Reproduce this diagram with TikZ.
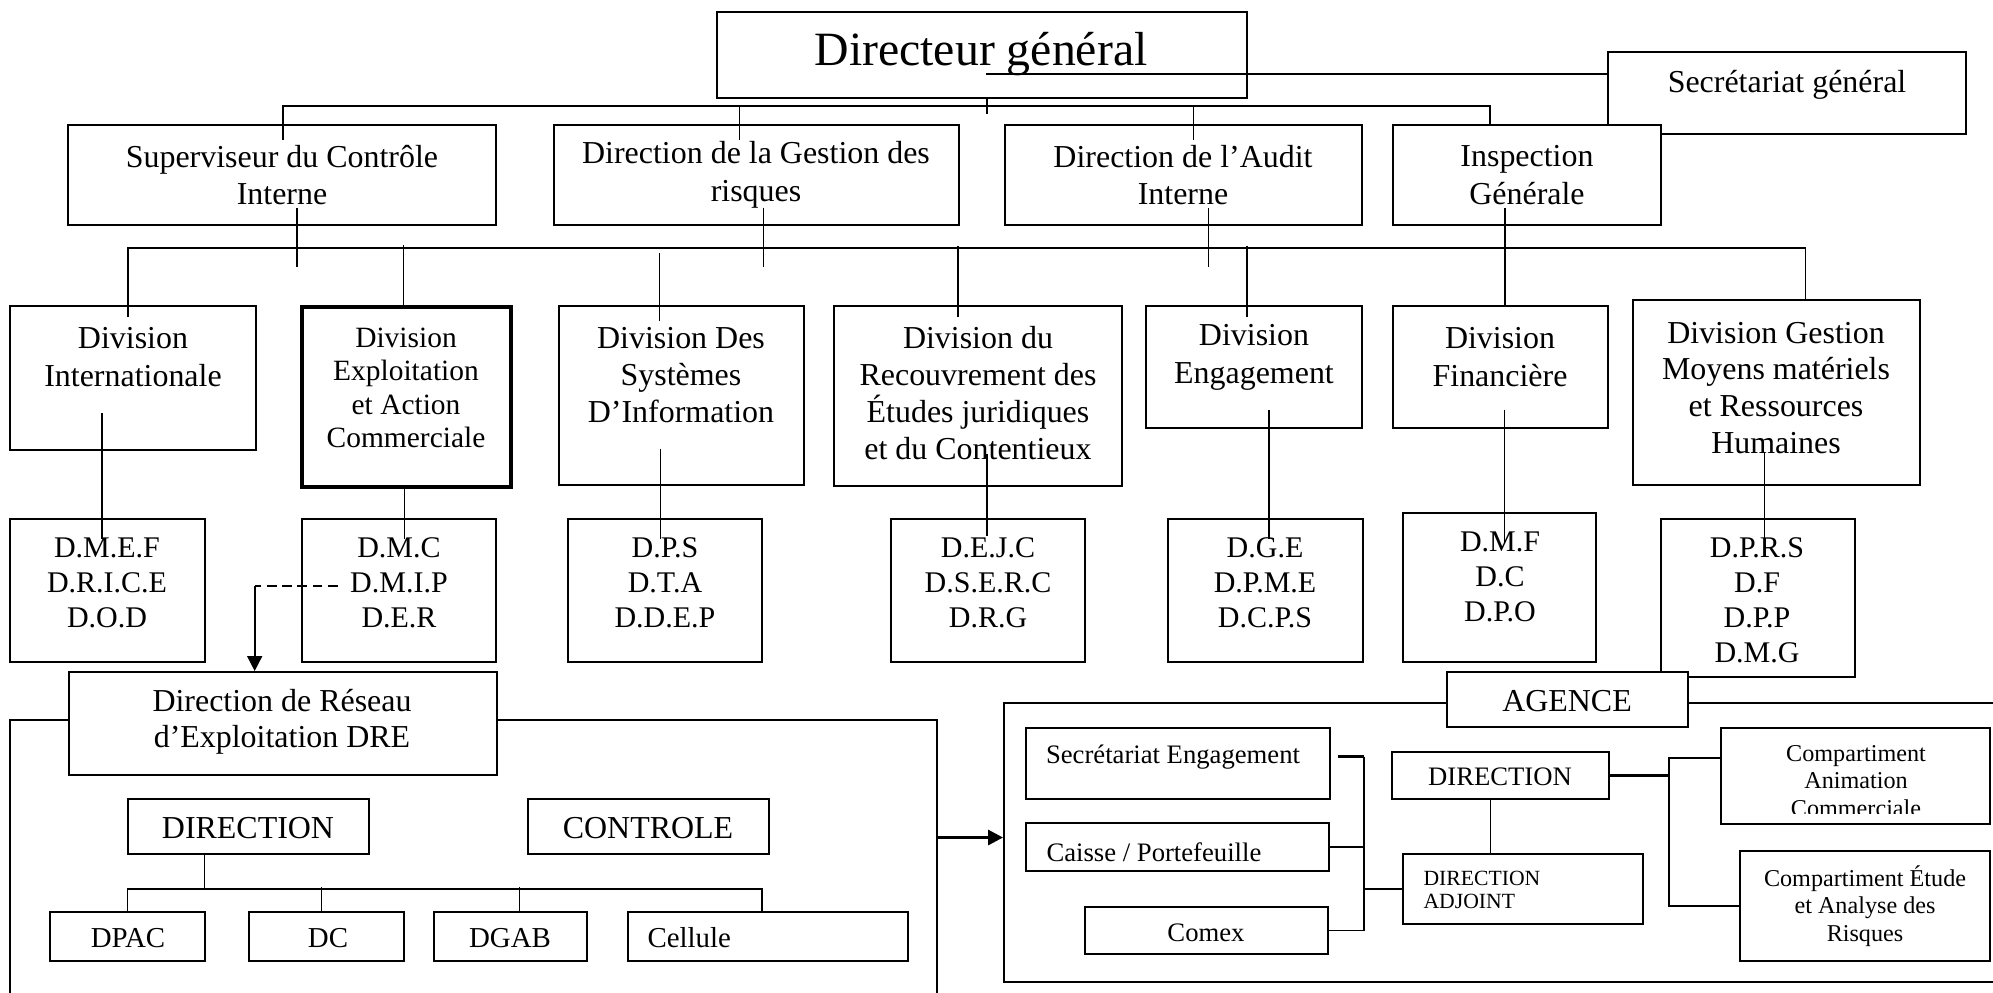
\documentclass[tikz,border=0pt]{standalone}
\usepackage{fontspec}
\setmainfont{Liberation Serif}
\usetikzlibrary{fit,calc,arrows.meta}

\tikzset{
  box/.style={draw, line width=0.7pt, fill=white, inner sep=0pt},
  groupframe/.style={draw, line width=0.7pt, inner sep=0pt},
  txt/.style={align=center, inner sep=0pt, font=\fontsize{11.5}{13.6}\selectfont},
  subtxt/.style={txt, font=\fontsize{10.8}{12.6}\selectfont},
  lowtxt/.style={txt, font=\fontsize{10.4}{12}\selectfont},
  smalltxt/.style={txt, font=\fontsize{9.6}{11}\selectfont},
  tinytxt/.style={txt, font=\fontsize{8.7}{10}\selectfont},
  link/.style={line width=0.6pt},
  boldlink/.style={line width=1.1pt},
  tip/.style={-{Triangle[length=5.4pt,width=5.4pt]}}
}

\begin{document}
\begin{tikzpicture}[x=0.36pt,y=-0.36pt]
  \useasboundingbox (0,0) rectangle (1993,992);
  \clip (0,0) rectangle (1993,992);

  % direction generale et rattachements
  \node[box, fit={(1608,52) (1966,134)}] (sg) {};
  \node[box, fit={(717,12) (1247,98)}] (dg) {};
  \node[box, fit={(68,125) (496,225)}] (sci) {};
  \node[box, fit={(554,125) (959,225)}] (dgr) {};
  \node[box, fit={(1005,125) (1362,225)}] (dai) {};
  \node[box, fit={(1393,125) (1661,225)}] (insp) {};
  \node[txt, font=\fontsize{17.2}{20}\selectfont] (dg-t) at (981,54) {Directeur général};
  \node[txt] (sg-t) at (1787,85) {Secrétariat général};
  \node[txt] (sci-t) at (282,175) {Superviseur du Contrôle\\Interne};
  \node[txt] (dgr-t) at (756,175) {Direction de la Gestion des\\risques};
  \node[txt] (dai-t) at (1183,175) {Direction de l’Audit\\Interne};
  \node[txt] (insp-t) at (1527,175) {Inspection\\Générale};

  % divisions
  \node[box, fit={(10,306) (256,450)}] (dint) {};
  \node[box, line width=1.1pt, fit={(302,307) (511,487)}] (dexp) {};
  \node[box, fit={(559,306) (804,485)}] (dsi) {};
  \node[box, fit={(834,306) (1122,486)}] (drec) {};
  \node[box, fit={(1146,306) (1362,428)}] (deng) {};
  \node[box, fit={(1393,306) (1608,428)}] (dfin) {};
  \node[box, fit={(1633,300) (1920,485)}] (dmm) {};
  \node[txt] (dint-t) at (133,357) {Division\\Internationale};
  \node[txt, font=\fontsize{10.6}{12}\selectfont] (dexp-t) at (406,388) {Division\\Exploitation\\et Action\\Commerciale};
  \node[txt, font=\fontsize{11.5}{13.3}\selectfont] (dsi-t) at (681,375) {Division Des\\Systèmes\\D’Information};
  \node[txt, font=\fontsize{11.5}{13.3}\selectfont] (drec-t) at (978,393) {Division du\\Recouvrement des\\Études juridiques\\et du Contentieux};
  \node[txt] (deng-t) at (1254,357) {Division\\Engagement};
  \node[txt] (dfin-t) at (1500,357) {Division\\Financière};
  \node[txt, font=\fontsize{11.5}{13.3}\selectfont] (dmm-t) at (1776,388) {Division Gestion\\Moyens matériels\\et Ressources\\Humaines};

  % directions des divisions
  \node[box, fit={(10,519) (205,662)}] (sint) {};
  \node[box, fit={(302,519) (496,662)}] (sexp) {};
  \node[box, fit={(568,519) (762,662)}] (ssi) {};
  \node[box, fit={(891,519) (1085,662)}] (srec) {};
  \node[box, fit={(1168,519) (1363,662)}] (seng) {};
  \node[box, fit={(1403,513) (1596,662)}] (sfin) {};
  \node[box, fit={(1661,519) (1855,677)}] (smm) {};
  \node[subtxt] (sint-t) at (107,583) {D.M.E.F\\D.R.I.C.E\\D.O.D};
  \node[subtxt] (sexp-t) at (399,583) {D.M.C\\D.M.I.P\\D.E.R};
  \node[subtxt] (ssi-t) at (665,583) {D.P.S\\D.T.A\\D.D.E.P};
  \node[subtxt] (srec-t) at (988,583) {D.E.J.C\\D.S.E.R.C\\D.R.G};
  \node[subtxt] (seng-t) at (1265,583) {D.G.E\\D.P.M.E\\D.C.P.S};
  \node[subtxt] (sfin-t) at (1500,577) {D.M.F\\D.C\\D.P.O};
  \node[subtxt] (smm-t) at (1757,600) {D.P.R.S\\D.F\\D.P.P\\D.M.G};

  % reseau d'exploitation
  \node[groupframe, fit={(10,720) (937,1010)}] (dreg) {};
  \node[box, fit={(69,672) (497,775)}] (dre) {};
  \node[box, fit={(128,799) (369,854)}] (ddir) {};
  \node[box, fit={(528,799) (769,854)}] (dctl) {};
  \node[box, fit={(50,912) (205,961)}] (dpac) {};
  \node[box, fit={(249,912) (404,961)}] (ddc) {};
  \node[box, fit={(434,912) (587,961)}] (dgab) {};
  \node[box, fit={(628,912) (908,961)}] (dcel) {};
  \node[txt, font=\fontsize{11.5}{12.8}\selectfont] (dre-t) at (282,722) {Direction de Réseau\\d’Exploitation DRE};
  \node[txt] (ddir-t) at (248,828) {DIRECTION};
  \node[txt] (dctl-t) at (648,828) {CONTROLE};
  \node[lowtxt] (dpac-t) at (128,938) {DPAC};
  \node[lowtxt] (ddc-t) at (328,938) {DC};
  \node[lowtxt] (dgab-t) at (510,938) {DGAB};
  \node[lowtxt, anchor=west] (dcel-t) at (647,938) {Cellule};

  % agence
  \node[groupframe, fit={(1004,703) (2010,982)}] (ag) {};
  \node[box, fit={(1447,672) (1688,727)}] (agc) {};
  \node[box, fit={(1026,728) (1330,799)}] (ase) {};
  \node[box, fit={(1026,823) (1329,871)}] (acp) {};
  \node[box, fit={(1085,907) (1328,954)}] (acx) {};
  \node[box, fit={(1392,752) (1609,799)}] (adir) {};
  \node[box, fit={(1403,854) (1643,924)}] (aadj) {};
  \node[box, fit={(1721,728) (1990,824)}] (aca) {};
  \node[box, fit={(1740,851) (1990,961)}] (ace) {};
  \node[txt] (agc-t) at (1567,701) {AGENCE};
  \node[smalltxt] (ase-t) at (1173,757) {Secrétariat Engagement};
  \node[smalltxt, anchor=west] (acp-t) at (1046,852) {Caisse / Portefeuille};
  \node[smalltxt] (acx-t) at (1206,933) {Comex};
  \node[smalltxt] (adir-t) at (1500,777) {DIRECTION};
  \node[txt, align=left, anchor=west, font=\fontsize{7.8}{8.3}\selectfont] (aadj-t) at (1423,890) {DIRECTION\\ADJOINT};
  \begin{scope}
    \clip ($(aca.south west)+(0,-11)$) rectangle (aca.north east);
    \node[tinytxt] (aca-t) at (1856,781) {Compartiment\\Animation\\Commerciale};
  \end{scope}
  \node[tinytxt] (ace-t) at (1865,906) {Compartiment Étude\\et Analyse des\\Risques};

  % liaisons du haut
  \draw[link] ($(sg.west)+(0,-19)$) -- +(-621,0);
  \draw[link] ($(dg.south)+(5,0)$) -- ++(0,15);
  \draw[link] ($(sci.north)+(1,16)$) -- ++(0,-34) -| ($(insp.north)+(-37,0)$);
  \foreach \n/\d in {dgr/-17,dai/10}
    \draw[link] ($(\n.north)+(\d,-18)$) -- ++(0,34);

  \coordinate (midbus) at ($(sci.south)+(0,22)$);
  \foreach \n/\d in {sci/15,dgr/7,dai/25}
    \draw[link] ($(\n.south)+(\d,-18)$) -- ++(0,59);
  \draw[link] ($(insp.south)+(-22,-18)$) -- ++(0,98);
  \draw[link] ($(dint.north)+(-5,12)$) |- (midbus) -| ($(dmm.north)+(29,0)$);
  \foreach \n/\d/\e/\l in {dexp/-3/0/60,drec/-20/12/71,deng/-7/12/71}
    \draw[link] ($(\n.north)+(\d,\e)$) -- ++(0,-\l);
  \draw[link] ($(dsi.north)+(-22,16)$) -- ++(0,-68);

  \foreach \n/\d/\e/\l in {dint/-31/-38/126,dexp/-2/0/50,dsi/-21/-37/90,drec/9/-33/82,deng/15/-19/129,dfin/4/-19/134,dmm/-12/-34/87}
    \draw[link] ($(\n.south)+(\d,\e)$) -- ++(0,\l);

  % vers le reseau
  \draw[line width=1pt, dash pattern=on 3.5pt off 2pt] ($(sexp-t.west)+(-12,3)$) -- ++(-83,0) coordinate (dk);
  \draw[link, tip] (dk) -- (dk |- dre.north);

  \coordinate (drebus) at ($(ddir.south)+(0,34)$);
  \draw[link] ($(ddir.south)+(-44,0)$) -- ++(0,34);
  \draw[link] (dpac.north) |- (drebus) -| ($(dcel.north)+(-6,0)$);
  \foreach \n/\d in {ddc/-5,dgab/9}
    \draw[link] ($(\n.north)+(\d,0)$) -- ++(0,-24);

  \coordinate (agin) at ($(ag.west)+(0,-5)$);
  \draw[boldlink, tip] (dreg.east |- agin) -- (agin);

  % agence
  \coordinate (lcol) at ($(ase.east)+(33,-7)$);
  \draw[boldlink] ($(ase.east)+(7,-7)$) -- (lcol);
  \draw[link] (lcol) |- (acx.east);
  \draw[link] (acp.east) -- (acp.east -| lcol);
  \draw[link] (lcol |- aadj.west) -- (aadj.west);
  \draw[link] ($(adir.south)+(-10,0)$) -- ++(0,55);
  \draw[boldlink] (adir.east) -- ++(59,0) coordinate (rcol);
  \draw[link] ($(aca.west)+(0,-18)$) -| (rcol |- ace.west) -- (ace.west);
\end{tikzpicture}
\end{document}
